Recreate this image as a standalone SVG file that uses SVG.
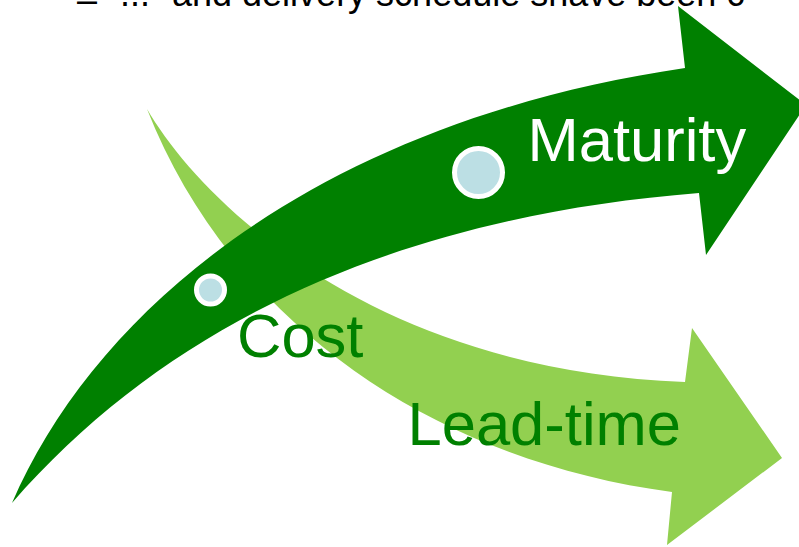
<svg xmlns="http://www.w3.org/2000/svg" width="799" height="547" viewBox="0 0 799 547">
  <style>
    .lbl { font-family: "Liberation Sans", Arial, sans-serif; font-size: 61.5px; }
    .top { font-family: "Liberation Sans", Arial, sans-serif; font-size: 36px; fill: #000000; }
    .dot { fill: #BCDFE4; stroke: #FFFFFF; stroke-width: 5; }
  </style>
  <rect width="799" height="547" fill="#FFFFFF"/>
  <g id="header">
    <text class="top" x="77" y="11.5">–</text>
    <text class="top" y="6"><tspan x="120">...</tspan><tspan x="172">and delivery schedule shave been c</tspan></text>
  </g>
  <g id="leadtime-arrow">
    <path fill="#92D050" d="M147,109 C200,200 370,370 685,382 L692,328 L782,458 L667,545 L672,492 C430,460 230,320 147,109 Z"/>
  </g>
  <g id="maturity-arrow">
    <path fill="#008000" d="M12,503 C100,300 330,120 685,68 L678,6 L806,105 L706,255 L699,193 C420,215 180,310 12,503 Z"/>
  </g>
  <g id="cost-dot">
    <circle class="dot" cx="210.5" cy="290" r="14"/>
  </g>
  <g id="maturity-dot">
    <circle class="dot" cx="478.5" cy="172.5" r="24"/>
  </g>
  <g id="maturity-label">
    <text class="lbl" x="527.5" y="161" fill="#FFFFFF">Maturity</text>
  </g>
  <g id="cost-label">
    <text class="lbl" x="237" y="357" fill="#008000">Cost</text>
  </g>
  <g id="leadtime-label">
    <text class="lbl" x="407.5" y="445" fill="#008000">Lead-time</text>
  </g>
  <g id="connectors"/>
</svg>
